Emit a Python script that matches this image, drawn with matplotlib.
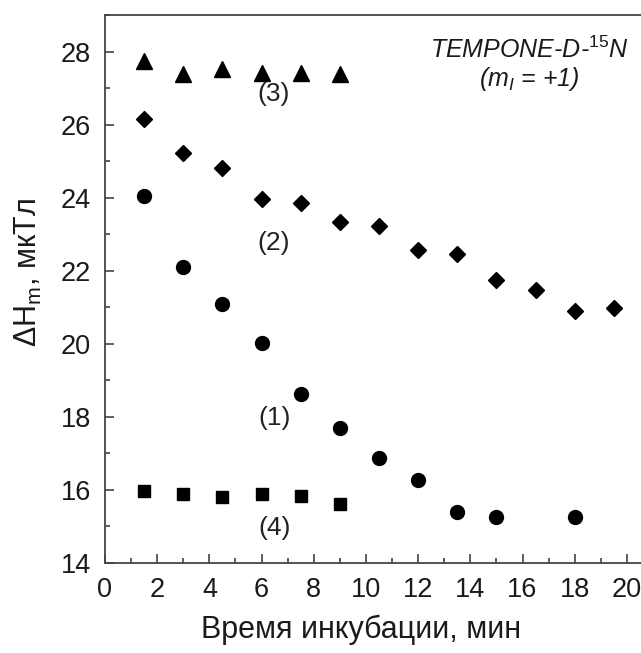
import matplotlib
matplotlib.use("Agg")
import matplotlib.pyplot as plt
from matplotlib.ticker import MultipleLocator

plt.rcParams['font.family'] = ['Liberation Sans', 'DejaVu Sans']
plt.rcParams['mathtext.fontset'] = 'custom'
plt.rcParams['mathtext.rm'] = 'Liberation Sans'
plt.rcParams['mathtext.it'] = 'Liberation Sans:italic'

# (1) circles
t1 = [1.5, 3, 4.5, 6, 7.5, 9, 10.5, 12, 13.5, 15, 18]
h1 = [24.05, 22.09, 21.08, 20.01, 18.62, 17.69, 16.87, 16.27, 15.39, 15.26, 15.26]
# (2) diamonds
t2 = [1.5, 3, 4.5, 6, 7.5, 9, 10.5, 12, 13.5, 15, 16.5, 18, 19.5]
h2 = [26.15, 25.23, 24.82, 23.97, 23.86, 23.34, 23.23, 22.58, 22.47, 21.76, 21.46, 20.89, 20.99]
# (3) triangles
t3 = [1.5, 3, 4.5, 6, 7.5, 9]
h3 = [27.74, 27.38, 27.52, 27.42, 27.42, 27.38]
# (4) squares
t4 = [1.5, 3, 4.5, 6, 7.5, 9]
h4 = [15.98, 15.89, 15.81, 15.88, 15.84, 15.61]

fig = plt.figure(figsize=(6.41, 6.53), dpi=100)
ax = fig.add_axes([105/641, 90/653, 548/641, 548/653])

ax.plot(t1, h1, 'o', color='black', ms=10, ls='none')
ax.plot(t2, h2, 'D', color='black', ms=8.5, ls='none')
ax.plot(t3, h3, '^', color='black', ms=12, ls='none')
ax.plot(t4, h4, 's', color='black', ms=8, ls='none')

ax.set_xlim(0, 21)
ax.set_ylim(14, 29)
ax.xaxis.set_major_locator(MultipleLocator(2))
ax.xaxis.set_minor_locator(MultipleLocator(1))
ax.yaxis.set_major_locator(MultipleLocator(2))
ax.yaxis.set_minor_locator(MultipleLocator(1))
ax.set_yticks([14, 16, 18, 20, 22, 24, 26, 28])

sc = '#444444'
for s in ax.spines.values():
    s.set_color(sc)
    s.set_linewidth(1.3)
ax.tick_params(which='both', direction='in', colors=sc, labelcolor='#1a1a1a',
               labelsize=19.5, top=False, right=False)
ax.tick_params(which='major', length=6.5, width=1.2, pad=10)
ax.tick_params(which='minor', length=3.5, width=1.2)

ax.set_xlabel('Время инкубации, мин', fontsize=22, color='#1a1a1a', va='center')
ax.xaxis.set_label_coords(0.467, -0.122)
ax.set_ylabel(r'$\Delta$H$_{\rm m}$, мкТл', fontsize=22, color='#1a1a1a', va='center')
ax.yaxis.set_label_coords(-0.14, 0.53)

for txt, x, y in [('(3)', 6.45, 26.85), ('(2)', 6.45, 22.77), ('(1)', 6.5, 17.96), ('(4)', 6.5, 14.96)]:
    ax.text(x, y, txt, fontsize=19, color='#222222', ha='center', va='center')

ax.text(16.25, 28.05, r'TEMPONE-D-$^{15}$N', fontsize=18, style='italic',
        ha='center', va='center', color='#1a1a1a')
ax.text(16.25, 27.25, r'($m_{I}$ = +1)', fontsize=18, style='italic',
        ha='center', va='center', color='#1a1a1a')

fig.savefig('out.png', dpi=100)
